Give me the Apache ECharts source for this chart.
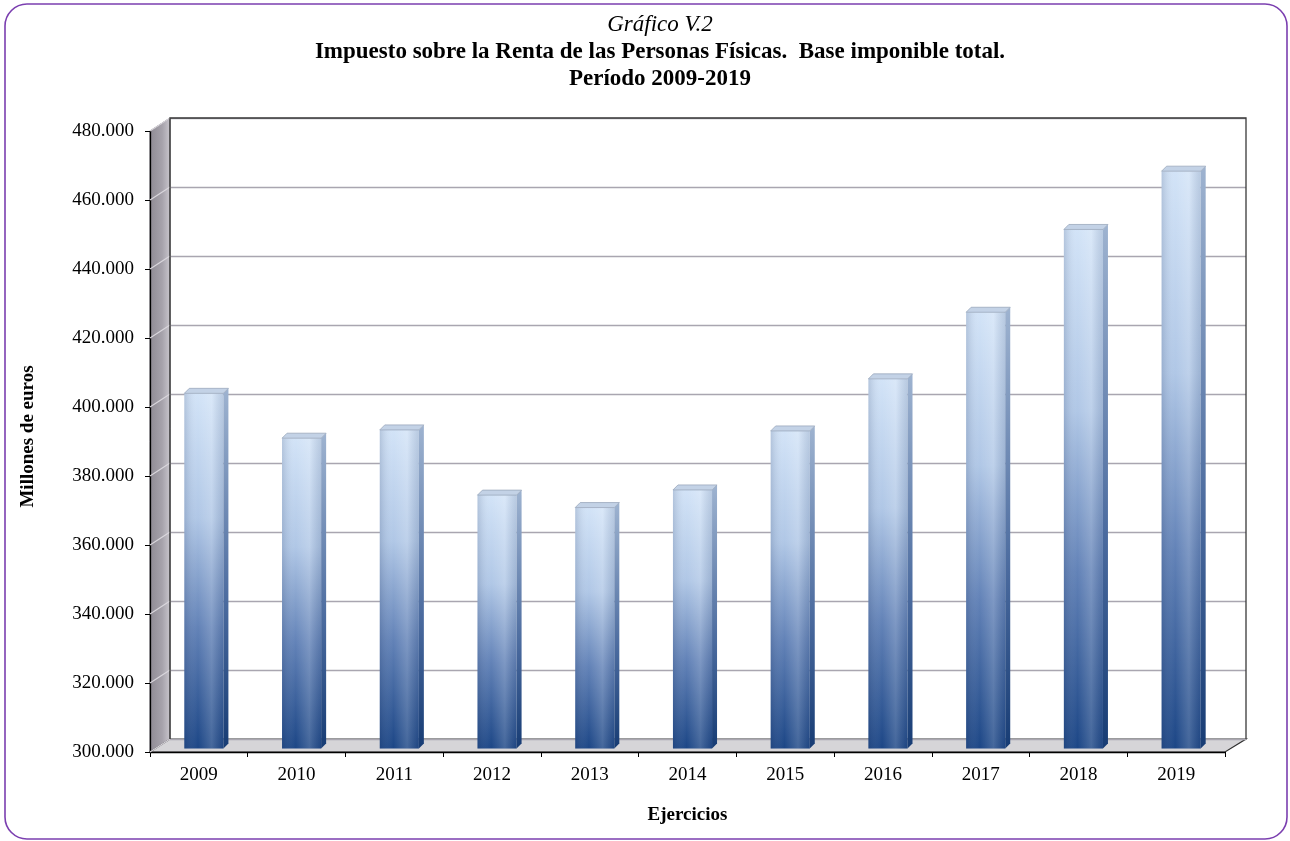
<!DOCTYPE html>
<html>
<head>
<meta charset="utf-8">
<script src="https://cdn.jsdelivr.net/npm/echarts@6/dist/echarts.min.js"></script>
<style>
html,body{margin:0;padding:0;background:#fff;}
#chart{width:1290px;height:841px;}
</style>
</head>
<body>
<div id="chart"></div>
<script>
const categories = ['2009','2010','2011','2012','2013','2014','2015','2016','2017','2018','2019'];
const baseImponible = [402800, 389800, 392200, 373300, 369700, 374800, 391900, 407000, 426300, 450300, 467200];
const yTicks = [300000, 320000, 340000, 360000, 380000, 400000, 420000, 440000, 460000, 480000];
const titleLines = ['Gráfico V.2', 'Impuesto sobre la Renta de las Personas Físicas.  Base imponible total.', 'Período 2009-2019'];
const yAxisName = 'Millones de euros';
const xAxisName = 'Ejercicios';

const FONT = '"Liberation Serif", "Times New Roman", serif';
const Y_MIN = 300000, Y_MAX = 480000, Y_INT = 20000;

// layout of the 3D box
const FL = 150, FT = 131, FW = 1075, FH = 621;   // front plane
const DX = 20, DY = 13;                           // depth offset
const BL = FL + DX, BT = FT - DY;                 // back plane

function fmt(v){ return String(v).replace(/\B(?=(\d{3})+(?!\d))/g, '.'); }

const chart = echarts.init(document.getElementById('chart'), null, {renderer:'canvas'});

const option = {
  animation:false,
  backgroundColor:'#ffffff',
  grid:[
    {left:FL, top:FT, width:FW, height:FH},
    {left:BL, top:BT, width:FW+1, height:FH},
    {left:FL+7, top:FT-6.5, width:FW, height:FH}
  ],
  xAxis:[
    {gridIndex:0, type:'category', data:categories, boundaryGap:true,
     axisLine:{show:true, lineStyle:{color:'#000', width:1.3}},
     axisTick:{show:true, length:5, lineStyle:{color:'#000'}},
     axisLabel:{color:'#000', fontFamily:FONT, fontSize:19, margin:14},
     name:xAxisName, nameLocation:'middle', nameGap:54,
     nameTextStyle:{color:'#000', fontFamily:FONT, fontSize:19, fontWeight:'bold'}},
    {gridIndex:1, type:'category', data:categories, show:false},
    {gridIndex:2, type:'category', data:categories, show:false}
  ],
  yAxis:[
    {gridIndex:0, type:'value', min:Y_MIN, max:Y_MAX, interval:Y_INT,
     axisLine:{show:true, lineStyle:{color:'#000', width:1.3}},
     axisTick:{show:true, length:5, lineStyle:{color:'#000'}},
     splitLine:{show:false},
     axisLabel:{color:'#000', fontFamily:FONT, fontSize:19, margin:16, formatter:fmt},
     name:yAxisName, nameLocation:'middle', nameGap:112, nameRotate:90,
     nameTextStyle:{color:'#000', fontFamily:FONT, fontSize:19, fontWeight:'bold', padding:[0,0,0,10]}},
    {gridIndex:1, type:'value', min:Y_MIN, max:Y_MAX, interval:Y_INT,
     axisLine:{show:false}, axisTick:{show:false}, axisLabel:{show:false},
     splitLine:{show:true, lineStyle:{color:'#a9a6b0', width:1.3}}},
    {gridIndex:2, type:'value', min:Y_MIN, max:Y_MAX, interval:Y_INT, show:false}
  ],
  graphic:[
    // outer rounded border
    {type:'rect', z:-10, shape:{x:5, y:4, width:1282, height:835, r:22},
     style:{fill:'#fff', stroke:'#7b3fb0', lineWidth:1.6}},
    // titles
    {type:'text', x:660, y:25, style:{text:titleLines[0], fontFamily:FONT, fontSize:23, fontStyle:'italic', fill:'#000', align:'center', verticalAlign:'middle'}},
    {type:'text', x:660, y:52, style:{text:titleLines[1], fontFamily:FONT, fontSize:23, fontWeight:'bold', fill:'#000', align:'center', verticalAlign:'middle'}},
    {type:'text', x:660, y:79, style:{text:titleLines[2], fontFamily:FONT, fontSize:23, fontWeight:'bold', fill:'#000', align:'center', verticalAlign:'middle'}},
    // side wall
    {type:'polygon', z:-1, shape:{points:[[FL,FT],[BL,BT],[BL,BT+FH],[FL,FT+FH]]},
     style:{fill:new echarts.graphic.LinearGradient(0,0,1,0,[{offset:0,color:'#8e8a93'},{offset:0.6,color:'#a6a2ab'},{offset:1,color:'#cac7ce'}]),
            stroke:'#55525a', lineWidth:1}},
    // floor
    {type:'polygon', z:-1, shape:{points:[[FL,FT+FH],[BL,BT+FH],[BL+FW+1,BT+FH],[FL+FW,FT+FH]]},
     style:{fill:'#d6d5d8', stroke:'#303030', lineWidth:1.2}},
    // back wall edges
    {type:'polyline', z:5, shape:{points:[[BL,BT+FH],[BL,BT],[BL+FW+1,BT],[BL+FW+1,BT+FH]]},
     style:{fill:null, stroke:'#3a3a3a', lineWidth:1.3}}
  ],
  series:[
    {
      type:'custom', xAxisIndex:0, yAxisIndex:0, z:1,
      data:yTicks.map(v => [0, v]),
      renderItem:function(params, api){
        const cs = params.coordSys;
        const p = api.coord([0, api.value(1)]);
        return {type:'line', shape:{x1:cs.x, y1:p[1], x2:cs.x+DX, y2:p[1]-DY},
                style:{stroke:'#d9d6dc', lineWidth:1.2}};
      }
    },
    {
      type:'custom', xAxisIndex:2, yAxisIndex:2, z:3,
      data:baseImponible.map((v,i) => [i, v]),
      renderItem:function(params, api){
        const i = api.value(0), v = api.value(1);
        const top = api.coord([i, v]);
        const base = api.coord([i, Y_MIN]);
        const slot = api.size([1, 0])[0];
        const w = slot * 0.40, d = 5;
        const x0 = top[0] - w/2 - 2, x1 = x0 + w;
        const yt = top[1] + d/2, yb = base[1] + 3;
        const frontGrad = new echarts.graphic.LinearGradient(0,0,0,1,[
          {offset:0, color:'#d2e3f7'},
          {offset:0.35, color:'#b0c7e6'},
          {offset:0.66, color:'#6282b7'},
          {offset:1, color:'#1c4686'}]);
        const sideGrad = new echarts.graphic.LinearGradient(0,0,0,1,[
          {offset:0, color:'#9eb3d0'},
          {offset:0.6, color:'#4a6a9e'},
          {offset:1, color:'#173c74'}]);
        const shine = new echarts.graphic.LinearGradient(0,0,1,0,[
          {offset:0, color:'rgba(40,60,100,0.18)'},
          {offset:0.35, color:'rgba(255,255,255,0.0)'},
          {offset:0.7, color:'rgba(255,255,255,0.18)'},
          {offset:1, color:'rgba(40,60,100,0.15)'}]);
        return {type:'group', children:[
          {type:'rect', shape:{x:x0, y:yt, width:w, height:yb-yt}, style:{fill:frontGrad}},
          {type:'rect', shape:{x:x0, y:yt, width:w, height:yb-yt}, style:{fill:shine}},
          {type:'polygon', shape:{points:[[x1,yt],[x1+d,yt-d],[x1+d,yb-d],[x1,yb]]}, style:{fill:sideGrad}},
          {type:'polygon', shape:{points:[[x0,yt],[x0+d,yt-d],[x1+d,yt-d],[x1,yt]]},
           style:{fill:'#c3d2e6', stroke:'#9aa8bd', lineWidth:0.8}}
        ]};
      }
    }
  ]
};
chart.setOption(option);
</script>
</body>
</html>
